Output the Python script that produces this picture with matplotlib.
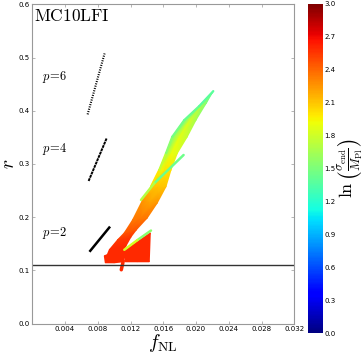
import numpy as np
import matplotlib
matplotlib.use("Agg")
import matplotlib.pyplot as plt
from matplotlib.collections import LineCollection
from matplotlib import cm, colors

plt.rcParams['mathtext.fontset'] = 'cm'

# ---- data ----
# black attractor lines (endpoints) for p = 2, 4, 6
p6_f = [0.00676, 0.00883]
p6_r = [0.3932, 0.5076]
p4_f = [0.00688, 0.00908]
p4_r = [0.2681, 0.3482]
p2_f = [0.00708, 0.00940]
p2_r = [0.1369, 0.1806]
r_limit = 0.110

# main band: left edge, middle, right edge (f_NL, r, ln(sigma_end/M_Pl))
left_f = [0.009002, 0.009405, 0.010418, 0.011237, 0.012251, 0.013472, 0.014498, 0.015512, 0.01633, 0.0171, 0.018565, 0.020397, 0.022107]
left_r = [0.1238, 0.1388, 0.1575, 0.1706, 0.1950, 0.2325, 0.2575, 0.2888, 0.3201, 0.3512, 0.3825, 0.4088, 0.4369]
left_c = [2.60, 2.60, 2.55, 2.45, 2.35, 2.25, 2.10, 1.90, 1.60, 1.50, 1.45, 1.40, 1.35]

mid_f = [0.009869, 0.010418, 0.011237, 0.01197, 0.013154, 0.014376, 0.015414, 0.01622, 0.017014, 0.018016, 0.019274, 0.020825, 0.022107]
mid_r = [0.1256, 0.1425, 0.1603, 0.1734, 0.1969, 0.2297, 0.2575, 0.2888, 0.3201, 0.3512, 0.3825, 0.4116, 0.4369]
mid_c = [2.60, 2.60, 2.55, 2.45, 2.35, 2.20, 2.10, 2.00, 1.92, 1.88, 1.82, 1.65, 1.40]

right_f = [0.010748, 0.011445, 0.012055, 0.012703, 0.014046, 0.015268, 0.01633, 0.016941, 0.01771, 0.018932, 0.019994, 0.021252, 0.022107]
right_r = [0.1275, 0.1463, 0.1631, 0.1763, 0.1988, 0.2269, 0.2575, 0.2888, 0.3201, 0.3512, 0.3825, 0.4144, 0.4369]
right_c = [2.60, 2.60, 2.55, 2.45, 2.35, 2.25, 2.10, 2.00, 1.85, 1.75, 1.65, 1.50, 1.40]

# second branch (green streak) and third branch
b2_f = [0.01848, 0.0149, 0.01328]
b2_r = [0.3169, 0.2638, 0.2325]
b2_c = [1.35, 1.55, 1.85]
b3_f = [0.014498, 0.012825, 0.011237]
b3_r = [0.1750, 0.1569, 0.1388]
b3_c = [1.40, 1.70, 1.95]

# red clusters near the bottom (top row / bottom row)
blobA_top_f = [0.011115, 0.012825, 0.014413]
blobA_top_r = [0.1350, 0.1538, 0.1706]
blobA_bot_f = [0.011359, 0.012825, 0.014290]
blobA_bot_r = [0.1163, 0.1163, 0.1163]
blobB_top_f = [0.008794, 0.010015, 0.011237]
blobB_top_r = [0.1275, 0.1350, 0.1388]
blobB_bot_f = [0.008916, 0.010015, 0.011115]
blobB_bot_r = [0.1144, 0.1144, 0.1163]
blob_c = [2.60, 2.60, 2.60]
spike_f = [0.011115, 0.010870]
spike_r = [0.1181, 0.1013]

xticks = [0.004, 0.008, 0.012, 0.016, 0.020, 0.024, 0.028, 0.032]
yticks = [0.0, 0.1, 0.2, 0.3, 0.4, 0.5, 0.6]
cticks = [0.0, 0.3, 0.6, 0.9, 1.2, 1.5, 1.8, 2.1, 2.4, 2.7, 3.0]

# ---- figure ----
fig = plt.figure(figsize=(3.64, 3.57), dpi=100)
ax = fig.add_axes([0.0887, 0.0933, 0.7198, 0.8947])
cax = fig.add_axes([0.847, 0.0672, 0.0396, 0.9216])

cmap = plt.get_cmap('jet')
norm = colors.Normalize(vmin=0.0, vmax=3.0)

def mesh(rows_f, rows_r, rows_c):
    ax.pcolormesh(np.array(rows_f), np.array(rows_r), np.array(rows_c),
                  shading='gouraud', cmap=cmap, norm=norm)

def track(f, r, c, lw):
    pts = np.column_stack([f, r]).reshape(-1, 1, 2)
    segs = np.concatenate([pts[:-1], pts[1:]], axis=1)
    cc = 0.5 * (np.asarray(c[:-1]) + np.asarray(c[1:]))
    lc = LineCollection(segs, cmap=cmap, norm=norm, linewidths=lw,
                        capstyle='round', joinstyle='round')
    lc.set_array(cc)
    ax.add_collection(lc)

mesh([blobA_top_f, blobA_bot_f], [blobA_top_r, blobA_bot_r], [blob_c, blob_c])
mesh([blobB_top_f, blobB_bot_f], [blobB_top_r, blobB_bot_r], [blob_c, blob_c])
ax.plot(spike_f, spike_r, color=cmap(norm(2.6)), lw=2.5, solid_capstyle='round')
mesh([left_f, mid_f, right_f], [left_r, mid_r, right_r], [left_c, mid_c, right_c])
track(left_f[6:], left_r[6:], left_c[6:], 1.6)
track(b2_f, b2_r, b2_c, 1.8)
track(b3_f, b3_r, b3_c, 1.8)

ax.plot(p6_f, p6_r, color='black', lw=1.5, linestyle=(0, (0.5, 0.65)))
ax.plot(p4_f, p4_r, color='black', lw=1.4, linestyle=(0, (1.5, 0.35)))
ax.plot(p2_f, p2_r, color='black', lw=1.8)
ax.axhline(r_limit, color='#333333', lw=1.0)

ax.text(0.0012, 0.457, r'$p\!=\!6$', fontsize=9)
ax.text(0.0012, 0.322, r'$p\!=\!4$', fontsize=9)
ax.text(0.0012, 0.165, r'$p\!=\!2$', fontsize=9)
ax.text(0.0002, 0.594, r'$\mathrm{MC10LFI}$', fontsize=12.5, va='top')

ax.set_xlim(0, 0.032)
ax.set_ylim(0, 0.6)
ax.set_xticks(xticks)
ax.set_xticklabels(['%.3f' % v for v in xticks])
ax.set_yticks(yticks)
ax.set_yticklabels(['%.1f' % v for v in yticks])
ax.tick_params(direction='in', length=2, width=0.5, color='#999999',
               labelsize=5, pad=2, top=True, right=True)
for s in ax.spines.values():
    s.set_color('#999999')
    s.set_linewidth(0.8)
ax.set_xlabel(r'$f_{\rm NL}$', fontsize=14, labelpad=0)
ax.set_ylabel(r'$r$', fontsize=14)
ax.yaxis.set_label_coords(-0.055, 0.5)

sm = cm.ScalarMappable(norm=norm, cmap=cmap)
cb = fig.colorbar(sm, cax=cax, ticks=cticks)
cb.outline.set_visible(False)
cb.ax.tick_params(length=0, labelsize=5, pad=1)
cb.ax.set_yticklabels(['%.1f' % v for v in cticks])
cb.set_label(r'$\ln\left(\frac{\sigma_{\rm end}}{M_{\rm Pl}}\right)$', fontsize=13, labelpad=1)

fig.savefig('out.png', dpi=100)
